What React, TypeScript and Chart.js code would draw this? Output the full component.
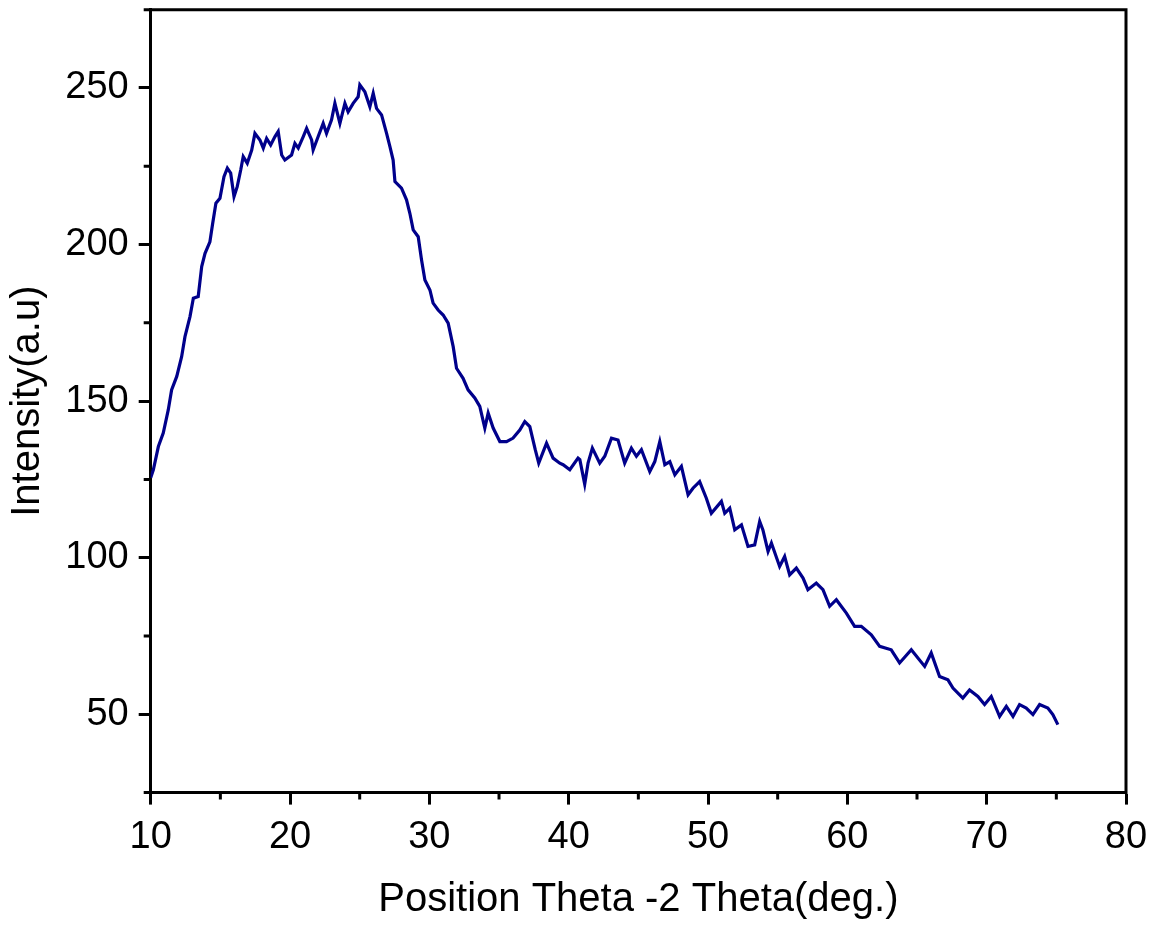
import React, { useEffect, useRef } from 'react';
import { Chart, registerables } from 'chart.js';

Chart.register(...registerables);

// 2θ positions (deg.)
const thetaDeg: number[] = [
  10.0, 10.19, 10.55, 10.9, 11.26, 11.5, 11.87, 12.22, 12.46, 12.82,
  13.06, 13.41, 13.66, 13.9, 14.25, 14.45, 14.68, 14.97, 15.26, 15.5,
  15.74, 15.98, 16.21, 16.46, 16.64, 16.93, 17.25, 17.48, 17.84, 18.08,
  18.32, 18.61, 18.92, 19.15, 19.4, 19.63, 20.11, 20.35, 20.59, 20.95,
  21.19, 21.55, 21.66, 22.02, 22.38, 22.62, 22.98, 23.22, 23.58, 23.94,
  24.17, 24.53, 24.89, 25.01, 25.37, 25.73, 25.97, 26.21, 26.57, 26.93,
  27.17, 27.4, 27.53, 28.0, 28.36, 28.6, 28.84, 29.2, 29.44, 29.68,
  30.04, 30.27, 30.63, 30.99, 31.35, 31.71, 31.95, 32.42, 32.78, 33.26,
  33.62, 33.98, 34.22, 34.58, 35.06, 35.54, 36.01, 36.49, 36.85, 37.21,
  37.6, 37.85, 38.41, 38.88, 39.36, 39.6, 40.08, 40.67, 40.8, 41.15,
  41.39, 41.7, 42.23, 42.59, 43.07, 43.54, 44.02, 44.5, 44.86, 45.22,
  45.82, 46.18, 46.54, 46.9, 47.26, 47.62, 48.09, 48.57, 48.92, 49.4,
  49.88, 50.24, 50.96, 51.2, 51.56, 51.92, 52.4, 52.87, 53.35, 53.71,
  53.94, 54.31, 54.55, 55.14, 55.5, 55.86, 56.34, 56.82, 57.17, 57.77,
  58.25, 58.73, 59.21, 59.93, 60.52, 61.0, 61.72, 62.32, 63.15, 63.75,
  64.59, 65.55, 66.02, 66.62, 67.22, 67.58, 68.29, 68.77, 69.37, 69.85,
  70.33, 70.93, 71.41, 71.89, 72.36, 72.84, 73.32, 73.8, 74.39, 74.75,
  75.11,
];

// Intensity (a.u)
const intensity: number[] = [
  125.5, 128.1, 135.5, 139.8, 147.2, 153.6, 157.9, 164.2, 170.6, 177.0,
  182.9, 183.4, 193.0, 197.2, 200.9, 206.8, 213.2, 214.8, 221.7, 224.4,
  222.8, 215.3, 218.5, 223.8, 228.1, 226.0, 230.2, 235.5, 233.4, 230.8,
  233.9, 231.8, 234.5, 236.1, 228.6, 227.0, 228.6, 232.3, 230.8, 234.5,
  237.1, 233.4, 230.2, 234.5, 238.7, 235.5, 239.8, 245.1, 238.7, 245.1,
  242.4, 245.1, 247.2, 251.0, 248.8, 244.0, 248.3, 243.5, 241.4, 235.5,
  231.3, 227.0, 220.1, 218.0, 214.3, 210.0, 204.7, 202.5, 195.1, 188.7,
  185.5, 181.3, 179.1, 177.5, 174.9, 167.4, 160.5, 157.3, 153.6, 151.0,
  148.3, 141.4, 146.2, 141.4, 137.1, 137.1, 138.2, 140.8, 143.5, 141.9,
  134.5, 130.2, 136.6, 131.8, 130.2, 129.7, 128.1, 131.8, 131.3, 123.5,
  130.2, 135.0, 130.2, 132.4, 138.2, 137.6, 130.2, 135.0, 132.4, 134.5,
  127.5, 130.7, 137.1, 129.7, 130.7, 126.5, 129.2, 120.1, 122.2, 124.3,
  119.0, 114.2, 118.0, 114.2, 115.8, 108.9, 110.5, 103.6, 104.1, 111.6,
  108.9, 102.0, 104.7, 97.2, 100.4, 94.5, 96.7, 93.5, 89.8, 91.9,
  89.8, 84.5, 86.6, 82.3, 78.1, 78.1, 75.4, 71.7, 70.6, 66.4,
  70.6, 65.3, 69.6, 62.1, 61.0, 58.4, 55.2, 57.8, 55.7, 53.1,
  55.7, 49.3, 52.5, 49.3, 53.1, 52.0, 49.9, 53.1, 52.0, 49.9,
  46.7,
];

const xMajorTicks: number[] = [10, 20, 30, 40, 50, 60, 70, 80];
const xMinorTicks: number[] = [15, 25, 35, 45, 55, 65, 75];
const yMajorTicks: number[] = [50, 100, 150, 200, 250];
const yMinorTicks: number[] = [25, 75, 125, 175, 225, 275];

const xAxisTitle = 'Position Theta -2 Theta(deg.)';
const yAxisTitle = 'Intensity(a.u)';

const FONT = "'Liberation Sans', Arial, Helvetica, sans-serif";

const framePlugin = {
  id: 'frameAndMinorTicks',
  afterDraw(chart: any) {
    const { ctx, chartArea, scales } = chart;
    const { left, right, top, bottom } = chartArea;
    const xs = scales.x;
    const ys = scales.y;
    ctx.save();
    ctx.strokeStyle = '#000';
    ctx.lineWidth = 3;
    ctx.lineCap = 'square';
    ctx.beginPath();
    ctx.moveTo(left, top);
    ctx.lineTo(right, top);
    ctx.lineTo(right, bottom);
    ctx.stroke();
    ctx.lineCap = 'butt';
    ctx.beginPath();
    xMinorTicks.forEach((v) => {
      const px = xs.getPixelForValue(v);
      ctx.moveTo(px, bottom);
      ctx.lineTo(px, bottom + 7);
    });
    yMinorTicks.forEach((v) => {
      const py = ys.getPixelForValue(v);
      ctx.moveTo(left, py);
      ctx.lineTo(left - 7, py);
    });
    ctx.stroke();
    ctx.restore();
  },
};

export default function App() {
  const canvasRef = useRef<HTMLCanvasElement | null>(null);

  useEffect(() => {
    const canvas = canvasRef.current;
    if (!canvas) return;
    const points = thetaDeg.map((x, i) => ({ x, y: intensity[i] }));
    const chart = new Chart(canvas, {
      type: 'line',
      data: {
        datasets: [
          {
            data: points,
            borderColor: '#00008B',
            borderWidth: 3.2,
            pointRadius: 0,
            tension: 0,
            fill: false,
          },
        ],
      },
      options: {
        animation: false,
        responsive: false,
        maintainAspectRatio: false,
        events: [],
        layout: { padding: { top: 9.7, right: 28, left: 0, bottom: 0 } },
        plugins: { legend: { display: false }, tooltip: { enabled: false } },
        scales: {
          x: {
            type: 'linear',
            position: 'bottom',
            min: 10,
            max: 80,
            afterBuildTicks: (s: any) => {
              s.ticks = xMajorTicks.map((v) => ({ value: v }));
            },
            afterFit: (s: any) => {
              s.height = 135.4;
              s.paddingLeft = 0;
              s.paddingRight = 0;
            },
            ticks: {
              font: { family: FONT, size: 38 },
              color: '#000',
              padding: 10,
              maxRotation: 0,
              autoSkip: false,
            },
            grid: {
              drawOnChartArea: false,
              drawTicks: true,
              tickLength: 12,
              tickWidth: 3,
              tickColor: '#000',
            },
            border: { display: true, color: '#000', width: 3 },
            title: {
              display: true,
              text: xAxisTitle,
              color: '#000',
              font: { family: FONT, size: 40 },
              padding: { top: 0, bottom: 4 },
            },
          },
          y: {
            type: 'linear',
            position: 'left',
            min: 25,
            max: 275,
            afterBuildTicks: (s: any) => {
              s.ticks = yMajorTicks.map((v) => ({ value: v }));
            },
            afterFit: (s: any) => {
              s.width = 150.7;
              s.paddingTop = 0;
              s.paddingBottom = 0;
            },
            ticks: {
              font: { family: FONT, size: 38 },
              color: '#000',
              padding: 10,
              autoSkip: false,
            },
            grid: {
              drawOnChartArea: false,
              drawTicks: true,
              tickLength: 12,
              tickWidth: 3,
              tickColor: '#000',
            },
            border: { display: true, color: '#000', width: 3 },
            title: {
              display: true,
              text: yAxisTitle,
              color: '#000',
              font: { family: FONT, size: 40 },
              padding: { top: 4, bottom: 0 },
            },
          },
        },
      },
      plugins: [framePlugin],
    });
    return () => chart.destroy();
  }, []);

  return (
    <div style={{ position: 'fixed', left: 0, top: 0, width: 1154, height: 928, background: '#fff' }}>
      <canvas ref={canvasRef} width={1154} height={928} style={{ display: 'block' }} />
    </div>
  );
}
